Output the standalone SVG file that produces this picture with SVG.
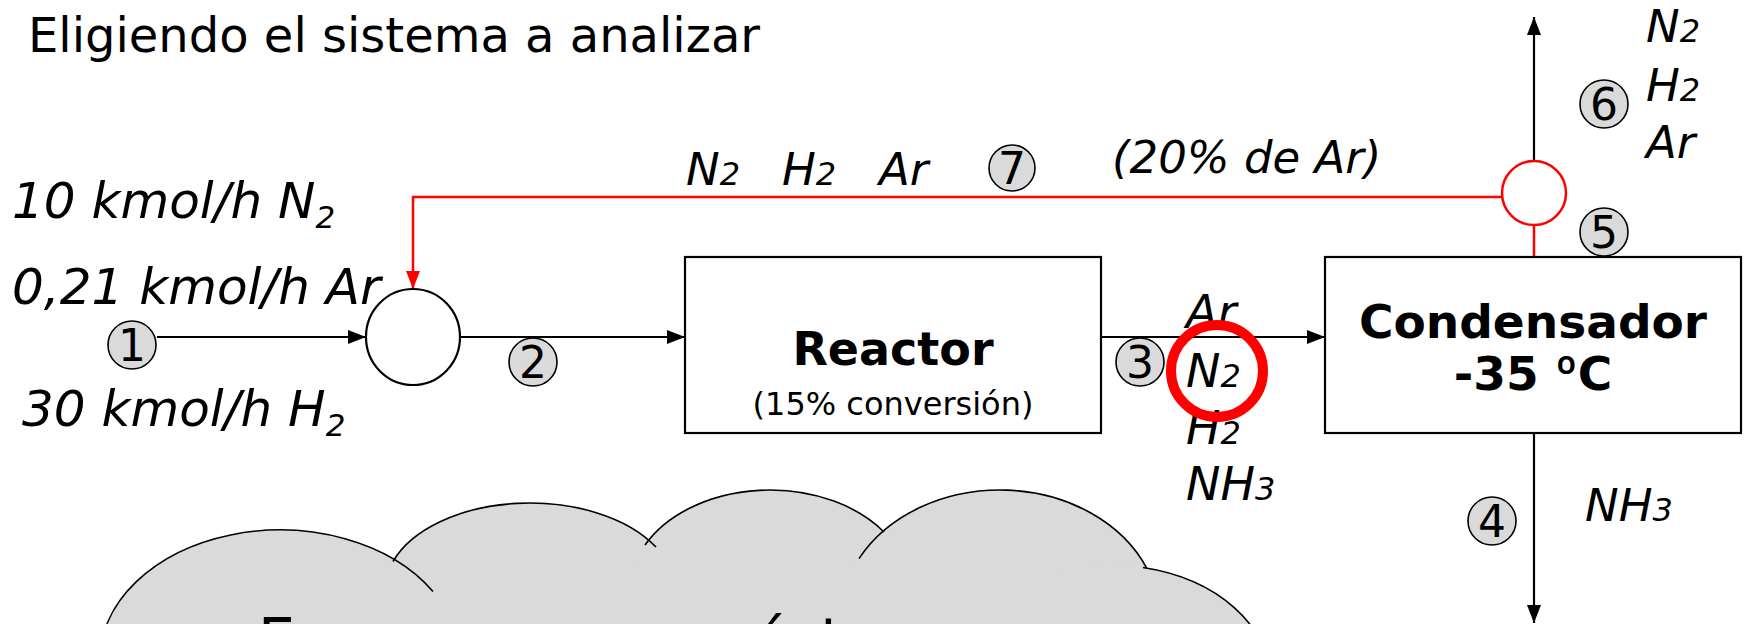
<svg xmlns="http://www.w3.org/2000/svg" width="1746" height="624" viewBox="0 0 1746 624">
<style>
text{font-family:"DejaVu Sans","Liberation Sans",sans-serif;fill:#000}
.it{font-style:italic}
.bd{font-weight:bold}
.ln{stroke:#000;stroke-width:2.2;fill:none}
.rd{stroke:#ff0000;stroke-width:2.5;fill:none}
.box{fill:#fff;stroke:#000;stroke-width:2.2}
.num ellipse{fill:#dadada;stroke:#000;stroke-width:1.6}
.num text{font-size:44px;text-anchor:middle}
.lbl{font-size:46px;font-style:italic}
.lbs{font-size:45px;font-style:italic}
.cl{fill:#dadada;stroke:none}
.co{fill:none;stroke:#000;stroke-width:1.6}
.ord{font-family:Inter,Roboto,"Open Sans",sans-serif;font-weight:bold}
</style>
<defs>
<marker id="ab" markerWidth="18" markerHeight="14" refX="18" refY="7" orient="auto" markerUnits="userSpaceOnUse"><path d="M0,0 L18,7 L0,14 Z" fill="#000"/></marker>
<marker id="ar" markerWidth="18" markerHeight="14" refX="18" refY="7" orient="auto" markerUnits="userSpaceOnUse"><path d="M0,0 L18,7 L0,14 Z" fill="#ff0000"/></marker>
</defs>

<text x="28" y="52" font-size="48">Eligiendo el sistema a analizar</text>

<g id="connectors">
<path class="ln" d="M157,337 H366" marker-end="url(#ab)"/>
<path class="ln" d="M460,337 H685" marker-end="url(#ab)"/>
<path class="ln" d="M1101,337 H1325" marker-end="url(#ab)"/>
<path class="ln" d="M1534,433 V623" marker-end="url(#ab)"/>
<path class="ln" d="M1534,161 V17" marker-end="url(#ab)"/>
<path class="rd" d="M1534,257 V225"/>
<path class="rd" d="M1502,197 H413 V289" marker-end="url(#ar)"/>
</g>

<g id="feed-labels" class="it">
<text x="12" y="218" font-size="50">10 kmol/h N<tspan font-size="31" dy="10">2</tspan></text>
<text x="12" y="304" font-size="50">0,21 kmol/h Ar</text>
<text x="22" y="426" font-size="50">30 kmol/h H<tspan font-size="31" dy="10">2</tspan></text>
</g>

<g id="mixer"><ellipse cx="413" cy="337" rx="47" ry="48" fill="#fff" stroke="#000" stroke-width="2.2"/></g>

<g id="reactor">
<rect class="box" x="685" y="257" width="416" height="176"/>
<text class="bd" x="893" y="365" font-size="46" text-anchor="middle">Reactor</text>
<text x="893" y="415" font-size="32" text-anchor="middle">(15% conversión)</text>
</g>

<g id="condensador">
<rect class="box" x="1325" y="257" width="416" height="176"/>
<text class="bd" x="1533" y="338" font-size="47" text-anchor="middle">Condensador</text>
<text class="bd" x="1533" y="390" font-size="47" text-anchor="middle">-35 <tspan class="ord">º</tspan>C</text>
</g>

<g id="splitter"><circle cx="1534" cy="193" r="32" fill="#fff" stroke="#ff0000" stroke-width="2.5"/></g>

<g id="stream-numbers" class="num">
<g id="s1"><ellipse cx="132" cy="345" rx="24" ry="24"/><text x="132" y="361">1</text></g>
<g id="s2"><ellipse cx="533" cy="362" rx="24" ry="24"/><text x="533" y="378">2</text></g>
<g id="s3"><ellipse cx="1140" cy="362" rx="24" ry="24"/><text x="1140" y="378">3</text></g>
<g id="s4"><ellipse cx="1492" cy="521" rx="24" ry="24"/><text x="1492" y="537">4</text></g>
<g id="s5"><ellipse cx="1604" cy="232" rx="24" ry="24"/><text x="1604" y="248">5</text></g>
<g id="s6"><ellipse cx="1604" cy="104" rx="24" ry="24"/><text x="1604" y="120">6</text></g>
<g id="s7"><ellipse cx="1012" cy="168" rx="23" ry="23"/><text x="1012" y="184">7</text></g>
</g>

<g id="stream-labels">
<text class="lbs" x="686" y="185">N<tspan font-size="32">2</tspan></text>
<text class="lbs" x="782" y="185">H<tspan font-size="32">2</tspan></text>
<text class="lbs" x="879" y="185">Ar</text>
<text class="lbs" x="1112" y="173">(20% de Ar)</text>
<text class="lbs" x="1646" y="42">N<tspan font-size="32">2</tspan></text>
<text class="lbs" x="1646" y="101">H<tspan font-size="32">2</tspan></text>
<text class="lbs" x="1646" y="158">Ar</text>
<text class="lbl" x="1186" y="328">Ar</text>
<text class="lbl" x="1186" y="387">N<tspan font-size="32">2</tspan></text>
<text class="lbl" x="1186" y="444">H<tspan font-size="32">2</tspan></text>
<text class="lbl" x="1186" y="500">NH<tspan font-size="32">3</tspan></text>
<text class="lbs" x="1585" y="521">NH<tspan font-size="32">3</tspan></text>
</g>

<g id="highlight"><circle cx="1217" cy="371" r="46" fill="none" stroke="#ff0000" stroke-width="10"/></g>

<g id="cloud">
<ellipse class="cl" cx="280" cy="660" rx="180" ry="130"/>
<ellipse class="cl" cx="530" cy="590" rx="145" ry="87"/>
<ellipse class="cl" cx="770" cy="590" rx="140" ry="100"/>
<ellipse class="cl" cx="1000" cy="620" rx="160" ry="130"/>
<ellipse class="cl" cx="1110" cy="680" rx="160" ry="115"/>
<rect class="cl" x="200" y="570" width="960" height="60"/>
<path class="co" d="M100,660 A180,130 0 0 1 433,591.5"/>
<path class="co" d="M393,561.5 A145,87 0 0 1 656,547"/>
<path class="co" d="M645,545 A140,100 0 0 1 884,532"/>
<path class="co" d="M859,558.6 A160,130 0 0 1 1147,568.7"/>
<path class="co" d="M1143,567.5 A160,115 0 0 1 1270,680"/>
<text x="258" y="660" font-size="59">Empezamos por éste</text>
</g>
</svg>
